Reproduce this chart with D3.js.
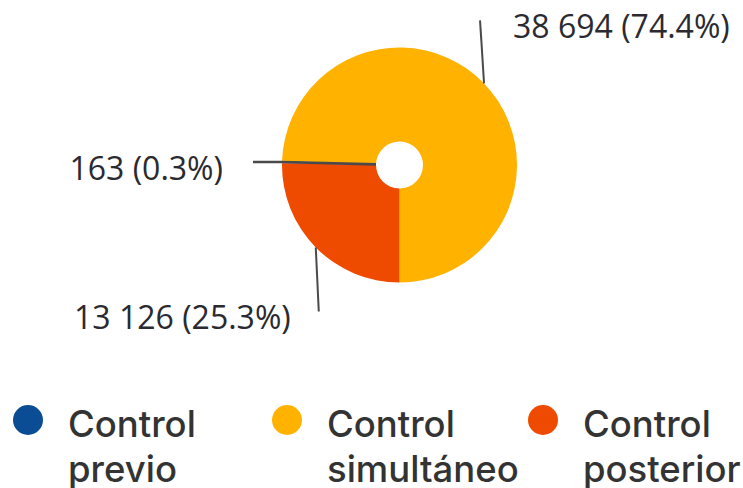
<!DOCTYPE html>
<html>
<head>
<meta charset="utf-8">
<script src="https://cdn.jsdelivr.net/npm/d3@7"></script>
<style>
  body { margin: 0; background: #fff; }
  svg { display: block; }
</style>
</head>
<body>
<div id="chart"></div>
<script>
// data
var categories = ["Control previo", "Control simultáneo", "Control posterior"];
var values = [163, 38694, 13126];
var valueLabels = ["163", "38 694", "13 126"];
var percentLabels = ["0.3%", "74.4%", "25.3%"];

var width = 743, height = 488;
var cx = 399.5, cy = 165, outerR = 117.5, innerR = 23.5;

var color = d3.scaleOrdinal()
    .domain(categories)
    .range(["#0b4d94", "#ffb200", "#ee4a00"]);

var svg = d3.select("#chart")
    .append("svg")
        .attr("width", width)
        .attr("height", height);

var g = svg.append("g")
    .attr("transform", "translate(" + cx + "," + cy + ")");

// posterior slice starts at 6 o'clock
var total = d3.sum(values);
var start = Math.PI - 2 * Math.PI * (values[0] + values[1]) / total;

var pie = d3.pie()
    .sort(null)
    .value(function(d) { return d; })
    .startAngle(start)
    .endAngle(start + 2 * Math.PI);

var arc = d3.arc().innerRadius(innerR).outerRadius(outerR);

var arcs = pie(values);

g.selectAll("path.slice")
    .data(arcs)
    .enter().append("path")
        .attr("class", "slice")
        .attr("fill", function(d, i) { return color(categories[i]); })
        .attr("d", arc);

// leader lines + labels
function pointAt(a, r) { return [r * Math.sin(a), -r * Math.cos(a)]; }

arcs.forEach(function(d, i) {
    var mid = (d.startAngle + d.endAngle) / 2;
    var pts, anchor, tx;
    if (i === 0) {
        // tiny slice: line runs through it from the hole out to the left
        var a = pointAt(mid, innerR), b = pointAt(mid, outerR);
        pts = [a, b, [253 - cx, b[1]]];
        anchor = "end"; tx = 253 - cx - 30;
    } else if (i === 1) {
        var p0 = pointAt(mid, outerR);
        pts = [p0, [p0[0] - 4, p0[1] - 63]];
        anchor = "start"; tx = pts[1][0] + 33;
    } else {
        var p0 = pointAt(mid, outerR);
        pts = [p0, [p0[0] + 3, p0[1] + 64]];
        anchor = "end"; tx = pts[1][0] - 28;
    }
    var end = pts[pts.length - 1];
    g.append("path")
        .attr("d", d3.line()(pts))
        .attr("fill", "none")
        .attr("stroke", "#4a4a4a")
        .attr("stroke-width", i === 0 ? 2.6 : 2);
    g.append("text")
        .attr("x", tx)
        .attr("y", end[1] + 18)
        .attr("text-anchor", anchor)
        .style("font-family", "'Open Sans', 'Noto Sans', sans-serif")
        .style("font-size", "32px")
        .style("fill", "#2a2a30")
        .text(valueLabels[i] + " (" + percentLabels[i] + ")");
});

// legend
var legendX = [28, 287, 543];
var legend = svg.selectAll("g.legend")
    .data(categories)
    .enter().append("g")
        .attr("class", "legend")
        .attr("transform", function(d, i) { return "translate(" + legendX[i] + ",420)"; });

legend.append("circle")
    .attr("r", 15)
    .attr("fill", function(d) { return color(d); });

legend.append("text")
    .attr("x", 40)
    .attr("y", 17)
    .style("font-family", "Inter, sans-serif")
    .style("font-size", "36.5px")
    .style("font-weight", 500)
    .style("fill", "#333")
    .selectAll("tspan")
    .data(function(d) { return d.split(" "); })
    .enter().append("tspan")
        .attr("x", 40)
        .attr("dy", function(d, i) { return i === 0 ? 0 : 45; })
        .text(function(d) { return d; });
</script>
</body>
</html>
